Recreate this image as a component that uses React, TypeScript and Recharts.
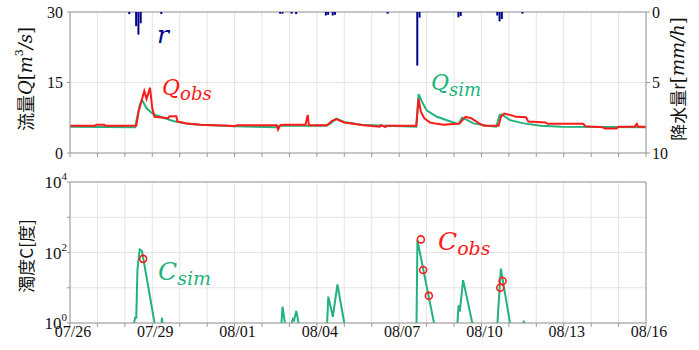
import {
  ComposedChart,
  BarChart,
  Bar,
  Line,
  Scatter,
  XAxis,
  YAxis,
  CartesianGrid,
  ReferenceLine,
} from 'recharts';

// time axis in hours from 07/26 00:00
const dayTicks = [0, 24, 48, 72, 96, 120, 144, 168, 192, 216, 240, 264, 288, 312, 336, 360, 384, 408, 432, 456, 480, 504];
const dateLabels = ['07/26', '07/29', '08/01', '08/04', '08/07', '08/10', '08/13', '08/16'];
const qTicks = [0, 15, 30];
const rTicks = [0, 5, 10];
const cTicks = [1, 10, 100, 1000, 10000];

// observed discharge Q [m3/s]
const qObs = [
  { t: 0, q: 5.8 }, { t: 22, q: 5.8 }, { t: 23, q: 6.0 }, { t: 30, q: 6.0 }, { t: 31, q: 5.8 },
  { t: 58, q: 5.8 }, { t: 60, q: 8.8 }, { t: 62, q: 10.6 }, { t: 65, q: 13.2 }, { t: 67, q: 11.5 },
  { t: 70, q: 13.9 }, { t: 72, q: 9.5 }, { t: 74, q: 7.7 }, { t: 86, q: 7.4 }, { t: 87, q: 7.8 },
  { t: 93, q: 7.8 }, { t: 94, q: 6.7 }, { t: 102, q: 6.3 }, { t: 114, q: 6.0 }, { t: 140, q: 5.8 },
  { t: 144, q: 5.7 }, { t: 146, q: 5.9 }, { t: 181, q: 5.9 }, { t: 182, q: 5.0 }, { t: 184, q: 5.9 },
  { t: 187, q: 6.0 }, { t: 206, q: 6.0 }, { t: 208, q: 8.1 }, { t: 209, q: 5.9 }, { t: 225, q: 5.9 },
  { t: 229, q: 6.8 }, { t: 233, q: 7.2 }, { t: 240, q: 6.5 }, { t: 257, q: 5.9 }, { t: 271, q: 5.6 },
  { t: 272, q: 5.9 }, { t: 276, q: 5.5 }, { t: 277, q: 5.8 }, { t: 303, q: 5.8 }, { t: 305, q: 11.5 },
  { t: 307, q: 8.8 }, { t: 310, q: 7.4 }, { t: 315, q: 6.5 }, { t: 321, q: 6.2 }, { t: 327, q: 6.0 },
  { t: 338, q: 6.2 }, { t: 341, q: 6.3 }, { t: 346, q: 7.7 }, { t: 351, q: 7.4 }, { t: 355, q: 6.8 },
  { t: 358, q: 6.3 }, { t: 362, q: 5.8 }, { t: 375, q: 5.8 }, { t: 377, q: 7.7 }, { t: 380, q: 8.4 },
  { t: 388, q: 7.9 }, { t: 390, q: 7.7 }, { t: 399, q: 7.6 }, { t: 401, q: 6.7 }, { t: 416, q: 6.5 },
  { t: 418, q: 6.2 }, { t: 449, q: 6.2 }, { t: 451, q: 5.7 }, { t: 466, q: 5.5 }, { t: 468, q: 5.2 },
  { t: 478, q: 5.2 }, { t: 480, q: 5.6 }, { t: 494, q: 5.6 }, { t: 496, q: 6.2 }, { t: 497, q: 5.6 },
  { t: 504, q: 5.6 },
];

// simulated discharge
const qSim = [
  { t: 0, q: 5.6 }, { t: 57, q: 5.5 }, { t: 61, q: 10.2 }, { t: 63, q: 11.3 }, { t: 67, q: 9.5 },
  { t: 73, q: 8.2 }, { t: 82, q: 7.5 }, { t: 90, q: 6.8 }, { t: 102, q: 6.3 }, { t: 114, q: 6.0 },
  { t: 144, q: 5.7 }, { t: 180, q: 5.5 }, { t: 184, q: 5.8 }, { t: 224, q: 5.8 }, { t: 228, q: 6.3 },
  { t: 233, q: 7.3 }, { t: 240, q: 6.6 }, { t: 255, q: 6.0 }, { t: 276, q: 5.8 }, { t: 303, q: 5.6 },
  { t: 305, q: 12.5 }, { t: 308, q: 10.9 }, { t: 312, q: 9.1 }, { t: 321, q: 7.7 }, { t: 333, q: 6.7 },
  { t: 338, q: 6.3 }, { t: 340, q: 6.2 }, { t: 343, q: 7.5 }, { t: 346, q: 7.2 }, { t: 353, q: 6.3 },
  { t: 365, q: 5.8 }, { t: 373, q: 5.6 }, { t: 376, q: 8.1 }, { t: 378, q: 8.2 }, { t: 385, q: 7.0 },
  { t: 397, q: 6.3 }, { t: 412, q: 5.8 }, { t: 430, q: 5.6 }, { t: 504, q: 5.5 },
];

// rainfall r [mm/h]
const rain = [
  { t: 52, r: 0.15 }, { t: 58, r: 1.0 }, { t: 60, r: 1.6 }, { t: 62, r: 0.8 }, { t: 80, r: 0.15 },
  { t: 184, r: 0.12 }, { t: 186, r: 0.12 }, { t: 194, r: 0.12 }, { t: 198, r: 0.15 },
  { t: 224, r: 0.25 }, { t: 226, r: 0.2 }, { t: 230, r: 0.25 }, { t: 232, r: 0.2 },
  { t: 278, r: 0.12 }, { t: 304, r: 3.8 }, { t: 306, r: 0.4 }, { t: 340, r: 0.38 }, { t: 342, r: 0.28 },
  { t: 374, r: 0.25 }, { t: 376, r: 0.66 }, { t: 378, r: 0.5 }, { t: 396, r: 0.12 },
];

// simulated turbidity C (null = below 10^0)
const cSim = [
  { t: 56, c: 1 }, { t: 57, c: 1.4 }, { t: 58, c: 1.4 }, { t: 59, c: 32 }, { t: 61, c: 122 },
  { t: 63, c: 110 }, { t: 74, c: 1 }, { t: 75, c: null },
  { t: 80, c: 1 }, { t: 80.5, c: 1.4 }, { t: 81, c: 1 }, { t: 82, c: null },
  { t: 185, c: 1 }, { t: 186, c: 2.9 }, { t: 188, c: 1 }, { t: 189, c: null },
  { t: 194, c: 1 }, { t: 195, c: 1.3 }, { t: 196, c: 1.2 }, { t: 198, c: 2.2 }, { t: 200, c: 1 }, { t: 201, c: null },
  { t: 225, c: 1 }, { t: 226, c: 5.6 }, { t: 230, c: 1.5 }, { t: 234, c: 12.5 }, { t: 240, c: 1 }, { t: 241, c: null },
  { t: 303.2, c: 1 }, { t: 304, c: 224 }, { t: 318.5, c: 1 }, { t: 319, c: null },
  { t: 339, c: 1 }, { t: 340, c: 3.2 }, { t: 341, c: 2.1 }, { t: 344, c: 16.5 }, { t: 352, c: 1 }, { t: 353, c: null },
  { t: 374, c: 1 }, { t: 377, c: 35 }, { t: 385, c: 1 }, { t: 386, c: null },
  { t: 396, c: 1 }, { t: 397, c: 1.1 }, { t: 398, c: 1 },
];

// observed turbidity
const cObs = [
  { t: 64, c: 66 }, { t: 307, c: 235 }, { t: 309, c: 32 }, { t: 314, c: 5.9 },
  { t: 376.5, c: 10 }, { t: 378.5, c: 15.5 },
];

const RED = '#ff1a1a';
const GREEN = '#22b27e';
const NAVY = '#00008b';
const AXIS = '#9a9a9a';
const GRID = '#e4e4e4';
const SERIF = '"Liberation Serif", "Times New Roman", serif';
const MATH = '"DejaVu Serif", serif';
const CJK = '"Noto Sans CJK JP", sans-serif';

// merge the two discharge series on time
const flowRows = (() => {
  const byT = new Map<number, { t: number; qobs?: number; qsim?: number }>();
  const row = (t: number) => {
    if (!byT.has(t)) byT.set(t, { t });
    return byT.get(t)!;
  };
  qObs.forEach(p => { row(p.t).qobs = p.q; });
  qSim.forEach(p => { row(p.t).qsim = p.q; });
  return [...byT.values()].sort((a, b) => a.t - b.t);
})();

const DateTick = ({ x, y, payload }: any) => {
  const day = Math.round(payload.value / 24);
  if (day % 3 !== 0) return <g />;
  return (
    <text x={x + 3} y={y + 8} textAnchor="middle" fontSize={16} fontFamily={SERIF} fill="#111">
      {dateLabels[day / 3]}
    </text>
  );
};

const LogTick = ({ x, y, payload }: any) => {
  const exp = Math.round(Math.log10(payload.value));
  if (exp % 2 !== 0) return <g />;
  return (
    <text x={x} y={y + 6} textAnchor="end" fontSize={17} fontFamily={SERIF} fill="#111">
      10<tspan dy={-8} fontSize={11}>{exp}</tspan>
    </text>
  );
};

const ObsCircle = ({ cx, cy }: any) => (
  <circle cx={cx} cy={cy} r={3.5} fill="none" stroke={RED} strokeWidth={1.6} />
);

const tickFont = { fontSize: 16, fill: '#111', fontFamily: SERIF };

export default function App() {
  return (
    <div style={{ position: 'absolute', left: 0, top: 0, width: 699, height: 350, background: '#fff' }}>
      {/* discharge panel */}
      <div style={{ position: 'absolute', left: 0, top: 0 }}>
        <ComposedChart width={699} height={170} data={flowRows} margin={{ top: 12, right: 53, bottom: 0, left: 0 }}>
          <CartesianGrid yAxisId="q" stroke={GRID} />
          <XAxis
            dataKey="t"
            type="number"
            domain={[0, 504]}
            ticks={dayTicks}
            interval={0}
            tickFormatter={() => ''}
            height={17}
            tickSize={4}
            stroke={AXIS}
          />
          <YAxis
            yAxisId="q"
            type="number"
            domain={[0, 30]}
            ticks={qTicks}
            interval={0}
            width={70}
            tickSize={3}
            tickMargin={4}
            tick={tickFont}
            stroke={AXIS}
          />
          <ReferenceLine yAxisId="q" y={30} stroke={AXIS} />
          <Line yAxisId="q" type="linear" dataKey="qsim" stroke={GREEN} strokeWidth={2} dot={false} connectNulls isAnimationActive={false} />
          <Line yAxisId="q" type="linear" dataKey="qobs" stroke={RED} strokeWidth={2} dot={false} connectNulls isAnimationActive={false} />
        </ComposedChart>
      </div>

      {/* rainfall bars hanging from the top, on the reversed right axis */}
      <div style={{ position: 'absolute', left: 0, top: 0 }}>
        <BarChart width={699} height={170} data={rain} margin={{ top: 12, right: 0, bottom: 17, left: 70 }}>
          <XAxis dataKey="t" type="number" domain={[0, 504]} hide />
          <YAxis
            orientation="right"
            type="number"
            domain={[0, 10]}
            reversed
            ticks={rTicks}
            interval={0}
            width={53}
            tickSize={4}
            tickMargin={2}
            tick={tickFont}
            stroke={AXIS}
          />
          <Bar dataKey="r" fill={NAVY} barSize={2} isAnimationActive={false} />
        </BarChart>
      </div>

      {/* turbidity panel */}
      <div style={{ position: 'absolute', left: 0, top: 170 }}>
        <ComposedChart width={699} height={180} data={cSim} margin={{ top: 12, right: 53, bottom: 0, left: 0 }}>
          <CartesianGrid stroke={GRID} />
          <XAxis
            dataKey="t"
            type="number"
            domain={[0, 504]}
            ticks={dayTicks}
            interval={0}
            tick={<DateTick />}
            height={27}
            tickSize={4}
            stroke={AXIS}
          />
          <YAxis
            type="number"
            scale="log"
            domain={[1, 10000]}
            allowDataOverflow
            ticks={cTicks}
            interval={0}
            width={70}
            tickSize={3}
            tickMargin={0}
            tick={<LogTick />}
            stroke={AXIS}
          />
          <ReferenceLine y={10000} stroke={AXIS} />
          <ReferenceLine x={504} stroke={AXIS} />
          <Line type="linear" dataKey="c" stroke={GREEN} strokeWidth={2} dot={false} isAnimationActive={false} />
          <Scatter data={cObs} dataKey="c" shape={<ObsCircle />} isAnimationActive={false} />
        </ComposedChart>
      </div>

      {/* axis titles and series labels */}
      <svg width={699} height={350} style={{ position: 'absolute', left: 0, top: 0, pointerEvents: 'none' }}>
        <text transform="translate(25 79) rotate(-90)" textAnchor="middle" dominantBaseline="central" fontSize={18} fill="#111">
          <tspan fontFamily={CJK}>流量</tspan>
          <tspan fontFamily={MATH} fontStyle="italic">Q</tspan>
          <tspan fontFamily={MATH}>[</tspan>
          <tspan fontFamily={MATH} fontStyle="italic">m</tspan>
          <tspan fontFamily={MATH} fontSize={11} dy={-6}>3</tspan>
          <tspan fontFamily={MATH} fontStyle="italic" dy={6}>/s</tspan>
          <tspan fontFamily={MATH}>]</tspan>
        </text>
        <text transform="translate(677 79) rotate(-90)" textAnchor="middle" dominantBaseline="central" fontSize={17} fill="#111">
          <tspan fontFamily={CJK}>降水量r</tspan>
          <tspan fontFamily={MATH} fontSize={18}>[</tspan>
          <tspan fontFamily={MATH} fontSize={18} fontStyle="italic">mm/h</tspan>
          <tspan fontFamily={MATH} fontSize={18}>]</tspan>
        </text>
        <text transform="translate(25 256) rotate(-90)" textAnchor="middle" dominantBaseline="central" fontSize={17} fill="#111" fontFamily={CJK}>
          濁度C[度]
        </text>

        <text x={157} y={43} fontFamily={MATH} fontStyle="italic" fontSize={25} fill={NAVY}>r</text>

        <text x={162} y={95} fontFamily={MATH} fontStyle="italic" fontSize={22} fill={RED}>
          Q<tspan fontSize={18} dy={5}>obs</tspan>
        </text>
        <text x={431} y={90} fontFamily={MATH} fontStyle="italic" fontSize={22} fill={GREEN}>
          Q<tspan fontSize={18} dy={6}>sim</tspan>
        </text>
        <text x={158} y={280} fontFamily={MATH} fontStyle="italic" fontSize={25} fill={GREEN}>
          C<tspan fontSize={19} dy={5}>sim</tspan>
        </text>
        <text x={438} y={250} fontFamily={MATH} fontStyle="italic" fontSize={25} fill={RED}>
          C<tspan fontSize={19} dy={5}>obs</tspan>
        </text>
      </svg>
    </div>
  );
}
